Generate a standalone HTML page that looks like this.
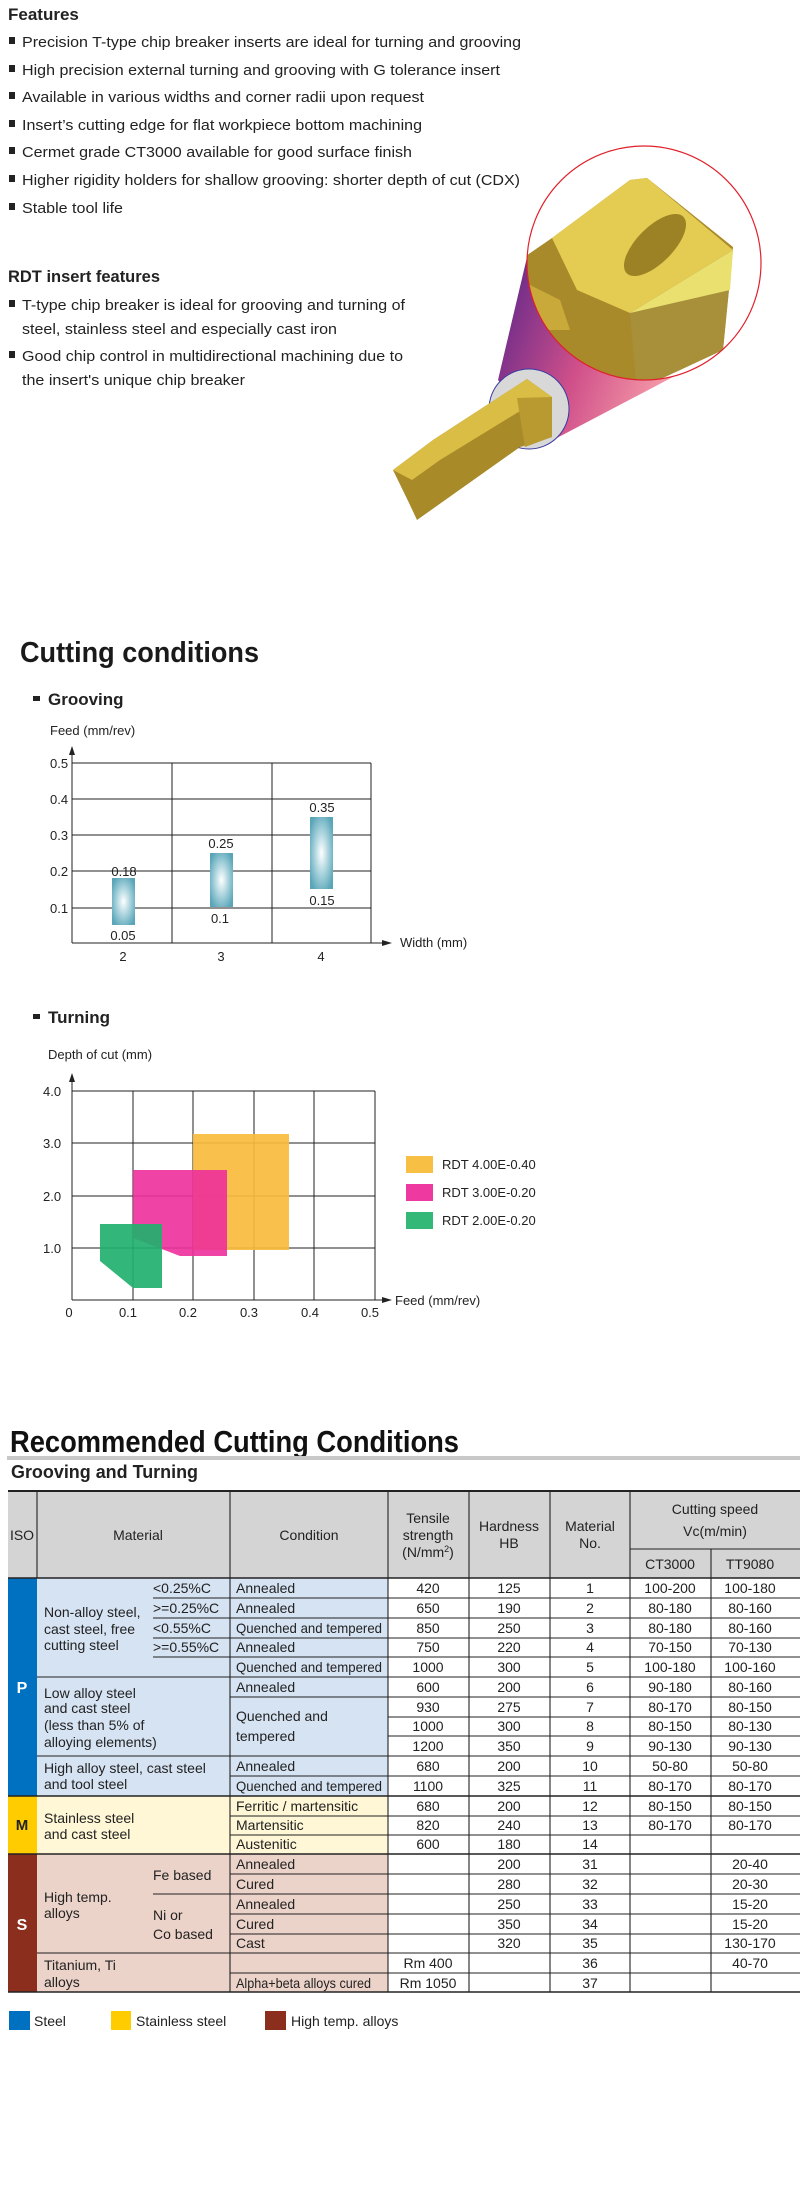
<!DOCTYPE html>
<html><head><meta charset="utf-8"><style>
html,body{margin:0;padding:0;background:#fff;}
svg{display:block;}
.n{font-family:"Liberation Sans Narrow","Liberation Sans",sans-serif;font-stretch:condensed;}
.s{font-family:"Liberation Sans",sans-serif;}
</style></head><body>
<svg width="800" height="2200" viewBox="0 0 800 2200" xmlns="http://www.w3.org/2000/svg">
<defs>
<radialGradient id="bar" cx="50%" cy="50%" r="60%"><stop offset="0" stop-color="#ffffff"/><stop offset="0.5" stop-color="#a9d3dd"/><stop offset="1" stop-color="#5aa6b8"/></radialGradient>
<linearGradient id="cone" x1="0" y1="0.3" x2="1" y2="0.7"><stop offset="0" stop-color="#6a2a8a"/><stop offset="0.5" stop-color="#d0508a"/><stop offset="1" stop-color="#f7a0aa"/></linearGradient>
<linearGradient id="gold" x1="0" y1="0" x2="1" y2="1"><stop offset="0" stop-color="#e6cc4a"/><stop offset="1" stop-color="#a88a1e"/></linearGradient>
<clipPath id="bc"><circle cx="644" cy="263" r="117"/></clipPath>
</defs>

<!-- Features -->
<g class="n" fill="#222">
<text x="8" y="20" font-size="17" font-weight="bold">Features</text>
<g font-size="15">
<rect x="9" y="37" width="6" height="7"/><text x="22" y="47" textLength="499" lengthAdjust="spacingAndGlyphs">Precision T-type chip breaker inserts are ideal for turning and grooving</text>
<rect x="9" y="65" width="6" height="7"/><text x="22" y="75" textLength="478" lengthAdjust="spacingAndGlyphs">High precision external turning and grooving with G tolerance insert</text>
<rect x="9" y="92" width="6" height="7"/><text x="22" y="102" textLength="402" lengthAdjust="spacingAndGlyphs">Available in various widths and corner radii upon request</text>
<rect x="9" y="120" width="6" height="7"/><text x="22" y="130" textLength="400" lengthAdjust="spacingAndGlyphs">Insert’s cutting edge for flat workpiece bottom machining</text>
<rect x="9" y="147" width="6" height="7"/><text x="22" y="157" textLength="390" lengthAdjust="spacingAndGlyphs">Cermet grade CT3000 available for good surface finish</text>
<rect x="9" y="175" width="6" height="7"/><text x="22" y="185" textLength="498" lengthAdjust="spacingAndGlyphs">Higher rigidity holders for shallow grooving: shorter depth of cut (CDX)</text>
<rect x="9" y="203" width="6" height="7"/><text x="22" y="213" textLength="101" lengthAdjust="spacingAndGlyphs">Stable tool life</text>
</g>
<text x="8" y="282" font-size="17" font-weight="bold" textLength="152" lengthAdjust="spacingAndGlyphs">RDT insert features</text>
<g font-size="15">
<rect x="9" y="300" width="6" height="7"/><text x="22" y="310" textLength="383" lengthAdjust="spacingAndGlyphs">T-type chip breaker is ideal for grooving and turning of</text>
<text x="22" y="334" textLength="315" lengthAdjust="spacingAndGlyphs">steel, stainless steel and especially cast iron</text>
<rect x="9" y="351" width="6" height="7"/><text x="22" y="361" textLength="381" lengthAdjust="spacingAndGlyphs">Good chip control in multidirectional machining due to</text>
<text x="22" y="385" textLength="223" lengthAdjust="spacingAndGlyphs">the insert's unique chip breaker</text>
</g>
</g>

<!-- Tool illustration -->
<polygon points="498,380 528,253 673,377 553,440" fill="url(#cone)"/>
<circle cx="644" cy="263" r="117" fill="#fff"/>
<g clip-path="url(#bc)">
<polygon points="520,260 552,238 630,180 647,178 733,247 723,350 637,390 520,400" fill="#a88a2a"/>
<polygon points="552,238 630,180 647,178 733,250 630,313 577,290" fill="#e4cb52"/>
<polygon points="630,313 733,250 723,350 637,390" fill="#a8903a"/>
<polygon points="630,313 733,250 730,290" fill="#e9e070"/>
<ellipse cx="655" cy="245" rx="18" ry="40" transform="rotate(45 655 245)" fill="#9c8224"/>
<polygon points="520,280 560,300 570,330 520,330" fill="#c9a93a"/>
</g>
<circle cx="644" cy="263" r="117" fill="none" stroke="#e0202a" stroke-width="1.2"/>
<circle cx="529" cy="409" r="40" fill="#d8d8d8" stroke="#3a3aa0" stroke-width="1"/>
<polygon points="393,470 433,440 527,379 552,397 552,437 520,447 417,520 410,505" fill="#a88a28"/>
<polygon points="393,470 433,440 527,379 552,397 525,408 440,460 412,480" fill="#d9bd45"/>
<polygon points="517,398 552,397 552,437 525,447" fill="#b89a30"/>

<!-- Cutting conditions -->
<text x="20" y="662" class="s" font-size="29" font-weight="bold" fill="#1a1a1a" textLength="239" lengthAdjust="spacingAndGlyphs">Cutting conditions</text>
<g class="s" fill="#222">
<rect x="33" y="696" width="7" height="5"/>
<text x="48" y="705" font-size="17" font-weight="bold">Grooving</text>
<text x="50" y="735" font-size="13">Feed (mm/rev)</text>
</g>
<g stroke="#222" stroke-width="1" fill="none">
<line x1="72" y1="763" x2="371" y2="763"/><line x1="72" y1="799" x2="371" y2="799"/>
<line x1="72" y1="835" x2="371" y2="835"/><line x1="72" y1="871" x2="371" y2="871"/>
<line x1="72" y1="908" x2="371" y2="908"/>
<line x1="172" y1="763" x2="172" y2="943"/><line x1="272" y1="763" x2="272" y2="943"/><line x1="371" y1="763" x2="371" y2="943"/>
<line x1="72" y1="750" x2="72" y2="943"/><line x1="72" y1="943" x2="388" y2="943"/>
</g>
<polygon points="72,746 69,755 75,755" fill="#222"/>
<polygon points="392,943 382,940 382,946" fill="#222"/>
<rect x="112" y="878" width="23" height="47" fill="url(#bar)"/>
<rect x="210" y="853" width="23" height="54" fill="url(#bar)"/>
<rect x="310" y="817" width="23" height="72" fill="url(#bar)"/>
<g class="s" font-size="13" fill="#222">
<text x="50" y="768">0.5</text><text x="50" y="804">0.4</text><text x="50" y="840">0.3</text><text x="50" y="876">0.2</text><text x="50" y="913">0.1</text>
<text x="123" y="961" text-anchor="middle">2</text><text x="221" y="961" text-anchor="middle">3</text><text x="321" y="961" text-anchor="middle">4</text>
<text x="400" y="947">Width (mm)</text>
<text x="124" y="876" text-anchor="middle">0.18</text><text x="123" y="940" text-anchor="middle">0.05</text>
<text x="221" y="848" text-anchor="middle">0.25</text><text x="220" y="923" text-anchor="middle">0.1</text>
<text x="322" y="812" text-anchor="middle">0.35</text><text x="322" y="905" text-anchor="middle">0.15</text>
</g>

<!-- Turning -->
<g class="s" fill="#222">
<rect x="33" y="1014" width="7" height="5"/>
<text x="48" y="1023" font-size="17" font-weight="bold">Turning</text>
<text x="48" y="1059" font-size="13">Depth of cut (mm)</text>
</g>
<g stroke="#222" stroke-width="1" fill="none">
<line x1="72" y1="1091" x2="375" y2="1091"/><line x1="72" y1="1143" x2="375" y2="1143"/>
<line x1="72" y1="1196" x2="375" y2="1196"/><line x1="72" y1="1248" x2="375" y2="1248"/>
<line x1="133" y1="1091" x2="133" y2="1300"/><line x1="193" y1="1091" x2="193" y2="1300"/>
<line x1="254" y1="1091" x2="254" y2="1300"/><line x1="314" y1="1091" x2="314" y2="1300"/>
<line x1="375" y1="1091" x2="375" y2="1300"/>
<line x1="72" y1="1077" x2="72" y2="1300"/><line x1="72" y1="1300" x2="388" y2="1300"/>
</g>
<polygon points="72,1073 69,1082 75,1082" fill="#222"/>
<polygon points="392,1300 382,1297 382,1303" fill="#222"/>
<rect x="193" y="1134" width="96" height="116" fill="#f8bb3c" opacity="0.92"/>
<polygon points="133,1170 227,1170 227,1256 180,1256 133,1238" fill="#ee2f9c" opacity="0.9"/>
<polygon points="100,1224 162,1224 162,1288 133,1288 100,1261" fill="#22b06e" opacity="0.92"/>
<g class="s" font-size="13" fill="#222">
<text x="43" y="1096">4.0</text><text x="43" y="1148">3.0</text><text x="43" y="1201">2.0</text><text x="43" y="1253">1.0</text>
<text x="69" y="1317" text-anchor="middle">0</text><text x="128" y="1317" text-anchor="middle">0.1</text><text x="188" y="1317" text-anchor="middle">0.2</text>
<text x="249" y="1317" text-anchor="middle">0.3</text><text x="310" y="1317" text-anchor="middle">0.4</text><text x="370" y="1317" text-anchor="middle">0.5</text>
<text x="395" y="1305">Feed (mm/rev)</text>
<rect x="406" y="1156" width="27" height="17" fill="#f8bf45"/><text x="442" y="1169">RDT 4.00E-0.40</text>
<rect x="406" y="1184" width="27" height="17" fill="#ee3aa0"/><text x="442" y="1197">RDT 3.00E-0.20</text>
<rect x="406" y="1212" width="27" height="17" fill="#33b877"/><text x="442" y="1225">RDT 2.00E-0.20</text>
</g>

<!-- Recommended cutting conditions -->
<text x="10" y="1452" class="n" font-size="31" font-weight="bold" fill="#111" textLength="449" lengthAdjust="spacingAndGlyphs">Recommended Cutting Conditions</text>
<rect x="7" y="1456" width="793" height="4" fill="#c8c8c8"/>
<text x="11" y="1478" class="n" font-size="18" font-weight="bold" fill="#222" textLength="187" lengthAdjust="spacingAndGlyphs">Grooving and Turning</text>

<rect x="8" y="1491" width="792" height="87" fill="#d4d4d4"/>
<rect x="8" y="1578" width="29" height="218" fill="#0070c0"/>
<rect x="8" y="1796" width="29" height="58" fill="#ffcc00"/>
<rect x="8" y="1854" width="29" height="138" fill="#8b2e1e"/>
<rect x="37" y="1578" width="351" height="218" fill="#d6e3f3"/>
<rect x="37" y="1796" width="351" height="58" fill="#fff7d6"/>
<rect x="37" y="1854" width="351" height="138" fill="#ecd3c9"/>

<g stroke="#222" stroke-width="1.1">
<line x1="8" y1="1491" x2="800" y2="1491" stroke-width="2"/>
<line x1="630" y1="1549" x2="800" y2="1549"/>
<line x1="8" y1="1578" x2="800" y2="1578" stroke-width="1.5"/>
<line x1="37" y1="1491" x2="37" y2="1578"/>
<line x1="230" y1="1491" x2="230" y2="1992"/><line x1="388" y1="1491" x2="388" y2="1992"/>
<line x1="469" y1="1491" x2="469" y2="1992"/><line x1="550" y1="1491" x2="550" y2="1992"/>
<line x1="630" y1="1491" x2="630" y2="1992"/><line x1="711" y1="1549" x2="711" y2="1992"/>
<line x1="230" y1="1598" x2="800" y2="1598"/><line x1="230" y1="1618" x2="800" y2="1618"/>
<line x1="230" y1="1638" x2="800" y2="1638"/><line x1="230" y1="1657" x2="800" y2="1657"/>
<line x1="37" y1="1677" x2="800" y2="1677"/><line x1="230" y1="1697" x2="800" y2="1697"/>
<line x1="388" y1="1717" x2="800" y2="1717"/><line x1="388" y1="1736" x2="800" y2="1736"/>
<line x1="37" y1="1756" x2="800" y2="1756"/><line x1="230" y1="1776" x2="800" y2="1776"/>
<line x1="8" y1="1796" x2="800" y2="1796" stroke-width="1.5"/>
<line x1="230" y1="1816" x2="800" y2="1816"/><line x1="230" y1="1835" x2="800" y2="1835"/>
<line x1="8" y1="1854" x2="800" y2="1854" stroke-width="1.5"/>
<line x1="230" y1="1874" x2="800" y2="1874"/><line x1="153" y1="1894" x2="800" y2="1894"/>
<line x1="230" y1="1914" x2="800" y2="1914"/><line x1="230" y1="1934" x2="800" y2="1934"/>
<line x1="37" y1="1953" x2="800" y2="1953"/><line x1="230" y1="1973" x2="800" y2="1973"/>
<line x1="8" y1="1992" x2="800" y2="1992" stroke-width="1.5"/>
<line x1="153" y1="1598" x2="230" y2="1598"/><line x1="153" y1="1618" x2="230" y2="1618"/>
<line x1="153" y1="1638" x2="230" y2="1638"/><line x1="153" y1="1657" x2="230" y2="1657"/>
</g>

<g class="n" font-size="14" fill="#222">
<text x="22" y="1540" text-anchor="middle">ISO</text>
<text x="138" y="1540" text-anchor="middle">Material</text>
<text x="309" y="1540" text-anchor="middle">Condition</text>
<text x="428" y="1523" text-anchor="middle">Tensile</text>
<text x="428" y="1540" text-anchor="middle">strength</text>
<text x="428" y="1557" text-anchor="middle">(N/mm<tspan font-size="9" dy="-5">2</tspan><tspan dy="5">)</tspan></text>
<text x="509" y="1531" text-anchor="middle">Hardness</text><text x="509" y="1548" text-anchor="middle">HB</text>
<text x="590" y="1531" text-anchor="middle">Material</text><text x="590" y="1548" text-anchor="middle">No.</text>
<text x="715" y="1514" text-anchor="middle">Cutting speed</text><text x="715" y="1536" text-anchor="middle">Vc(m/min)</text>
<text x="670" y="1569" text-anchor="middle">CT3000</text><text x="750" y="1569" text-anchor="middle">TT9080</text>

<text x="22" y="1693" text-anchor="middle" fill="#fff" font-weight="bold" font-size="16">P</text>
<text x="22" y="1830" text-anchor="middle" font-weight="bold" font-size="15">M</text>
<text x="22" y="1930" text-anchor="middle" fill="#fff" font-weight="bold" font-size="16">S</text>

<text x="44" y="1617">Non-alloy steel,</text><text x="44" y="1634">cast steel, free</text><text x="44" y="1650">cutting steel</text>
<text x="153" y="1593">&lt;0.25%C</text><text x="153" y="1613">&gt;=0.25%C</text><text x="153" y="1633">&lt;0.55%C</text><text x="153" y="1652">&gt;=0.55%C</text>
<text x="44" y="1698">Low alloy steel</text><text x="44" y="1713">and cast steel</text><text x="44" y="1730">(less than 5% of</text><text x="44" y="1747">alloying elements)</text>
<text x="44" y="1773">High alloy steel, cast steel</text><text x="44" y="1789">and tool steel</text>
<text x="44" y="1823">Stainless steel</text><text x="44" y="1839">and cast steel</text>
<text x="44" y="1902">High temp.</text><text x="44" y="1918">alloys</text>
<text x="153" y="1880">Fe based</text><text x="153" y="1920">Ni or</text><text x="153" y="1939">Co based</text>
<text x="44" y="1970">Titanium, Ti</text><text x="44" y="1987">alloys</text>

<text x="236" y="1593">Annealed</text><text x="236" y="1613">Annealed</text>
<text x="236" y="1633" textLength="146" lengthAdjust="spacingAndGlyphs">Quenched and tempered</text>
<text x="236" y="1652">Annealed</text>
<text x="236" y="1672" textLength="146" lengthAdjust="spacingAndGlyphs">Quenched and tempered</text>
<text x="236" y="1692">Annealed</text>
<text x="236" y="1721">Quenched and</text><text x="236" y="1741">tempered</text>
<text x="236" y="1771">Annealed</text>
<text x="236" y="1791" textLength="146" lengthAdjust="spacingAndGlyphs">Quenched and tempered</text>
<text x="236" y="1811">Ferritic / martensitic</text><text x="236" y="1830">Martensitic</text><text x="236" y="1849">Austenitic</text>
<text x="236" y="1869">Annealed</text><text x="236" y="1889">Cured</text><text x="236" y="1909">Annealed</text>
<text x="236" y="1929">Cured</text><text x="236" y="1948">Cast</text>
<text x="236" y="1988" textLength="135" lengthAdjust="spacingAndGlyphs">Alpha+beta alloys cured</text>
</g>

<g class="n" font-size="14" fill="#222" text-anchor="middle">
<text y="1593"><tspan x="428">420</tspan><tspan x="509">125</tspan><tspan x="590">1</tspan><tspan x="670">100-200</tspan><tspan x="750">100-180</tspan></text>
<text y="1613"><tspan x="428">650</tspan><tspan x="509">190</tspan><tspan x="590">2</tspan><tspan x="670">80-180</tspan><tspan x="750">80-160</tspan></text>
<text y="1633"><tspan x="428">850</tspan><tspan x="509">250</tspan><tspan x="590">3</tspan><tspan x="670">80-180</tspan><tspan x="750">80-160</tspan></text>
<text y="1652"><tspan x="428">750</tspan><tspan x="509">220</tspan><tspan x="590">4</tspan><tspan x="670">70-150</tspan><tspan x="750">70-130</tspan></text>
<text y="1672"><tspan x="428">1000</tspan><tspan x="509">300</tspan><tspan x="590">5</tspan><tspan x="670">100-180</tspan><tspan x="750">100-160</tspan></text>
<text y="1692"><tspan x="428">600</tspan><tspan x="509">200</tspan><tspan x="590">6</tspan><tspan x="670">90-180</tspan><tspan x="750">80-160</tspan></text>
<text y="1712"><tspan x="428">930</tspan><tspan x="509">275</tspan><tspan x="590">7</tspan><tspan x="670">80-170</tspan><tspan x="750">80-150</tspan></text>
<text y="1731"><tspan x="428">1000</tspan><tspan x="509">300</tspan><tspan x="590">8</tspan><tspan x="670">80-150</tspan><tspan x="750">80-130</tspan></text>
<text y="1751"><tspan x="428">1200</tspan><tspan x="509">350</tspan><tspan x="590">9</tspan><tspan x="670">90-130</tspan><tspan x="750">90-130</tspan></text>
<text y="1771"><tspan x="428">680</tspan><tspan x="509">200</tspan><tspan x="590">10</tspan><tspan x="670">50-80</tspan><tspan x="750">50-80</tspan></text>
<text y="1791"><tspan x="428">1100</tspan><tspan x="509">325</tspan><tspan x="590">11</tspan><tspan x="670">80-170</tspan><tspan x="750">80-170</tspan></text>
<text y="1811"><tspan x="428">680</tspan><tspan x="509">200</tspan><tspan x="590">12</tspan><tspan x="670">80-150</tspan><tspan x="750">80-150</tspan></text>
<text y="1830"><tspan x="428">820</tspan><tspan x="509">240</tspan><tspan x="590">13</tspan><tspan x="670">80-170</tspan><tspan x="750">80-170</tspan></text>
<text y="1849"><tspan x="428">600</tspan><tspan x="509">180</tspan><tspan x="590">14</tspan></text>
<text y="1869"><tspan x="509">200</tspan><tspan x="590">31</tspan><tspan x="750">20-40</tspan></text>
<text y="1889"><tspan x="509">280</tspan><tspan x="590">32</tspan><tspan x="750">20-30</tspan></text>
<text y="1909"><tspan x="509">250</tspan><tspan x="590">33</tspan><tspan x="750">15-20</tspan></text>
<text y="1929"><tspan x="509">350</tspan><tspan x="590">34</tspan><tspan x="750">15-20</tspan></text>
<text y="1948"><tspan x="509">320</tspan><tspan x="590">35</tspan><tspan x="750">130-170</tspan></text>
<text y="1968"><tspan x="428">Rm 400</tspan><tspan x="590">36</tspan><tspan x="750">40-70</tspan></text>
<text y="1988"><tspan x="428">Rm 1050</tspan><tspan x="590">37</tspan></text>
</g>

<g class="n" font-size="14" fill="#222">
<rect x="9" y="2011" width="21" height="19" fill="#0070c0"/><text x="34" y="2026">Steel</text>
<rect x="111" y="2011" width="20" height="19" fill="#ffcc00"/><text x="136" y="2026">Stainless steel</text>
<rect x="265" y="2011" width="21" height="19" fill="#8b2e1e"/><text x="291" y="2026">High temp. alloys</text>
</g>
</svg>
</body></html>
